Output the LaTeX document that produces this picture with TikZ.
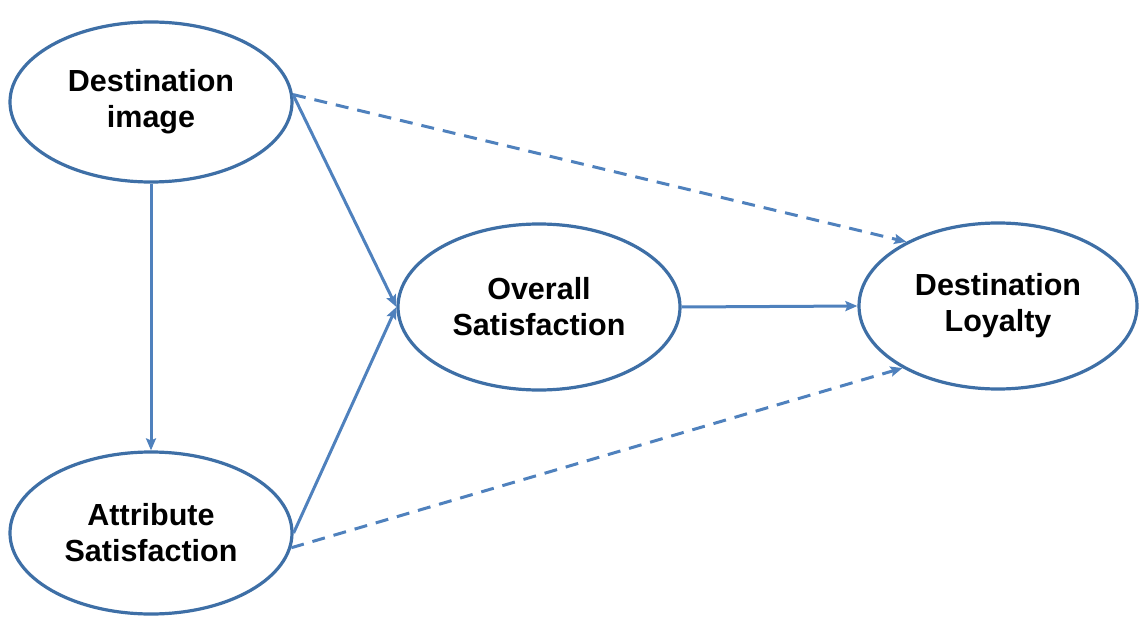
\documentclass[tikz,border=0pt]{standalone}
\usepackage{fontspec}
\setmainfont{Liberation Sans}
\usetikzlibrary{shapes.geometric,arrows.meta}
\definecolor{ringblue}{HTML}{3E6FA6}
\definecolor{arrowblue}{HTML}{4F81BD}
\tikzset{
  construct/.style={ellipse, draw=ringblue, line width=3.2pt, fill=white, inner sep=0pt,
    align=center, font=\fontsize{30.5}{36}\selectfont\bfseries},
  link/.style={draw=arrowblue, line width=3pt, -{Stealth[length=12pt,width=10pt,inset=2pt]}},
  dashlink/.style={link, dash pattern=on 13pt off 9pt},
}
\begin{document}
\begin{tikzpicture}[x=1pt,y=-1pt]
\useasboundingbox (0,0) rectangle (1139,620);
\node[construct, minimum width=282pt, minimum height=160pt] (di) at (151,102) {Destination\\image};
\node[construct, minimum width=282pt, minimum height=162pt] (as) at (151,533) {Attribute\\Satisfaction};
\node[construct, minimum width=282pt, minimum height=166pt] (os) at (539,307) {Overall\\Satisfaction};
\node[construct, minimum width=278pt, minimum height=166pt] (dl) at (998,306) {Destination\\Loyalty};
\draw[link] (di.south) -- (as.north);
\draw[link] (di.3) -- (os.west);
\draw[link] (as.east) -- (os.west);
\draw[link] (os.east) -- (dl.west);
\draw[dashlink] (di.3) -- (dl.145);
\draw[dashlink] (as.-6) -- (dl.213);
\end{tikzpicture}
\end{document}
